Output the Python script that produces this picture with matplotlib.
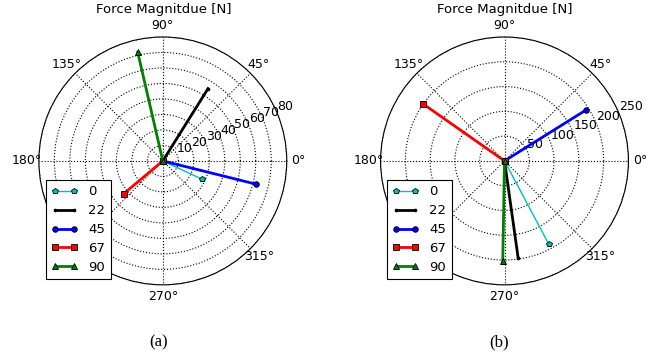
import numpy as np
import matplotlib
matplotlib.use("Agg")
import matplotlib.pyplot as plt

# series labels
etiquetas = ["0", "22", "45", "67", "90"]

# (a) angle in degrees and magnitude in N
ang_a = [335, 58, 346, 220, 103]
mag_a = [28, 55, 62, 33, 72]

# (b)
ang_b = [298, 278, 32, 145, 269]
mag_b = [190, 198, 193, 201, 201]

colores = ["c", "k", "b", "r", "g"]
marcas = ["p", ".", "o", "s", "^"]
anchos = [1.0, 2.0, 2.0, 2.0, 2.0]

plt.rcParams["font.family"] = "DejaVu Sans"
plt.rcParams["font.size"] = 9

fig = plt.figure(figsize=(6.7, 3.58), dpi=100)


def panel(pos, ang, mag, rmax, rticks, leg_anchor, letra, xcap, xtit):
    ax = fig.add_axes(pos, projection="polar")
    for i in range(len(etiquetas)):
        t = np.deg2rad(ang[i])
        ax.plot([0, t], [0, mag[i]], color=colores[i], marker=marcas[i],
                lw=anchos[i], ms=4, mec="k", mew=0.6, label=etiquetas[i])
    ax.set_ylim(0, rmax)
    ax.set_yticks(rticks)
    ax.set_yticklabels([str(v) for v in rticks], fontsize=9)
    ax.set_rlabel_position(22.5)
    ax.set_thetagrids(np.arange(0, 360, 45),
                      [u"%d\u00b0" % d for d in range(0, 360, 45)], fontsize=9)
    ax.tick_params(axis="x", pad=-2)
    ax.grid(True, color="k", linestyle=":", lw=0.8)
    ax.spines["polar"].set_linewidth(0.8)
    fig.text(xtit, 1 - 10 / 358.0, "Force Magnitdue [N]", ha="center",
             va="center", fontsize=9.5)
    leg = ax.legend(loc="upper left", bbox_to_anchor=leg_anchor,
                    bbox_transform=fig.transFigure, borderaxespad=0,
                    fontsize=9.5, numpoints=2, fancybox=False, framealpha=1,
                    handlelength=2.0, labelspacing=0.45, borderpad=0.4)
    leg.set_zorder(10)
    leg.get_frame().set_edgecolor("k")
    leg.get_frame().set_linewidth(0.8)
    fig.text(xcap, 1 - 342 / 358.0, letra, ha="center", va="center",
             family="Liberation Serif", fontsize=12)
    return ax


panel([0.058, 0.204, 0.370, 0.693], ang_a, mag_a, 80, range(10, 90, 10),
      (46 / 670.0, 1 - 180 / 358.0), "(a)", 159 / 670.0, 164 / 670.0)
panel([0.568, 0.204, 0.370, 0.693], ang_b, mag_b, 250, range(50, 300, 50),
      (387 / 670.0, 1 - 180 / 358.0), "(b)", 499 / 670.0, 505 / 670.0)

fig.savefig("out.png", dpi=100)
